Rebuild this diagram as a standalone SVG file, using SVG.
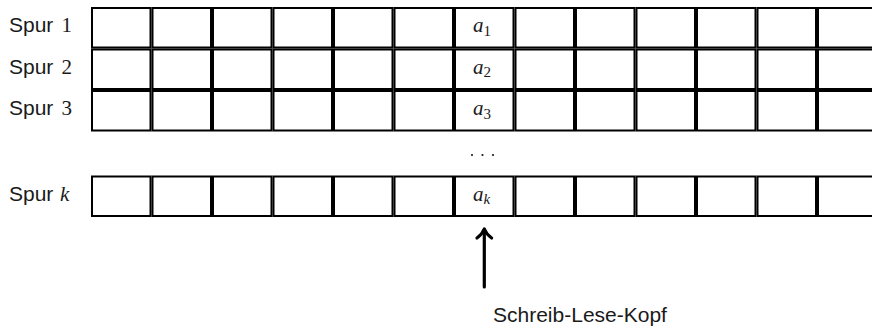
<svg xmlns="http://www.w3.org/2000/svg" xmlns:xlink="http://www.w3.org/1999/xlink" width="872" height="327" viewBox="0 0 872 327">
<style>
.c{fill:#fff;stroke:#000;stroke-width:2}
.lbl{font-family:"Liberation Sans",Arial,sans-serif;font-size:21px;fill:#1a1a1a}
.num{font-family:"Liberation Serif","Times New Roman",serif;font-size:21px;fill:#1a1a1a}
.mi{font-family:"Liberation Serif","Times New Roman",serif;font-style:italic;font-size:21px;fill:#1a1a1a}
.sub{font-size:15px}
.arr{fill:none;stroke:#000;stroke-width:3.2;stroke-linecap:round;stroke-linejoin:round}
</style>
<defs>
<g id="rowcells">
<rect class="c" x="92" y="0" width="58.5" height="39.5"/>
<rect class="c" x="152.5" y="0" width="58.5" height="39.5"/>
<rect class="c" x="213" y="0" width="58.5" height="39.5"/>
<rect class="c" x="273.5" y="0" width="58.5" height="39.5"/>
<rect class="c" x="334" y="0" width="58.5" height="39.5"/>
<rect class="c" x="394.5" y="0" width="58.5" height="39.5"/>
<rect class="c" x="455" y="0" width="58.5" height="39.5"/>
<rect class="c" x="515.5" y="0" width="58.5" height="39.5"/>
<rect class="c" x="576" y="0" width="58.5" height="39.5"/>
<rect class="c" x="636.5" y="0" width="58.5" height="39.5"/>
<rect class="c" x="697" y="0" width="58.5" height="39.5"/>
<rect class="c" x="757.5" y="0" width="58.5" height="39.5"/>
<rect class="c" x="818" y="0" width="58.5" height="39.5"/>
</g>
</defs>
<g id="spur1">
<use xlink:href="#rowcells" href="#rowcells" y="8"/>
<text class="lbl" x="9" y="32.25">Spur</text><text class="num" x="61.5" y="32.25">1</text>
<text class="mi" x="473" y="32.25">a<tspan class="sub" font-style="normal" dy="3.5">1</tspan></text>
</g>
<g id="spur2">
<use xlink:href="#rowcells" href="#rowcells" y="49.5"/>
<text class="lbl" x="9" y="73.75">Spur</text><text class="num" x="61.5" y="73.75">2</text>
<text class="mi" x="473" y="73.75">a<tspan class="sub" font-style="normal" dy="3.5">2</tspan></text>
</g>
<g id="spur3">
<use xlink:href="#rowcells" href="#rowcells" y="91"/>
<text class="lbl" x="9" y="115.25">Spur</text><text class="num" x="61.5" y="115.25">3</text>
<text class="mi" x="473" y="115.25">a<tspan class="sub" font-style="normal" dy="3.5">3</tspan></text>
</g>
<g id="dots" fill="#1a1a1a">
<circle cx="472" cy="155" r="1.1"/>
<circle cx="482.5" cy="155" r="1.1"/>
<circle cx="493" cy="155" r="1.1"/>
</g>
<g id="spurk">
<use xlink:href="#rowcells" href="#rowcells" y="176.5"/>
<text class="lbl" x="9" y="200.75">Spur</text><text class="mi" x="60" y="200.75">k</text>
<text class="mi" x="473" y="200.75">a<tspan class="sub" dy="3.5">k</tspan></text>
</g>
<g id="kopf">
<text class="lbl" x="493" y="322.3" font-size="21.6">Schreib-Lese-Kopf</text>
</g>
<g id="connectors">
<path class="arr" d="M484.3,287 L484.3,229.5"/>
<path class="arr" d="M477,238 Q482,234.5 484.3,229 Q486.6,234.5 491.6,238"/>
</g>
</svg>
